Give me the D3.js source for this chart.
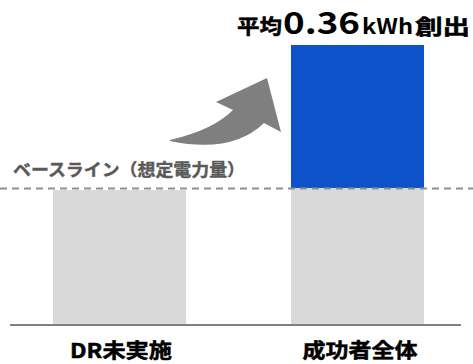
<!DOCTYPE html>
<html><head><meta charset="utf-8">
<script src="https://cdn.jsdelivr.net/npm/d3@7"></script>
<style>
html,body{margin:0;padding:0;background:#fff;}
svg{display:block;}
text{font-family:"Noto Sans CJK JP","Noto Sans",sans-serif;font-weight:700;}
</style></head>
<body>
<script>
const categories = ["DR未実施", "成功者全体"];
const baseValues = [0.34, 0.345];      // kWh (gray)
const createdValues = [0, 0.36];       // kWh created (blue)
const baselineValue = 0.345;
const baselineLabel = "ベースライン（想定電力量）";
const titleParts = ["平均", "0.36", "kWh", "創出"];

const W = 473, H = 364;
const svg = d3.select("body").append("svg").attr("width", W).attr("height", H);

const xb = d3.scaleBand().domain(categories).range([53, 424]).paddingInner(0.441).paddingOuter(0);
const y = d3.scaleLinear().domain([0, 0.705]).range([325, 45]);

const defs = svg.append("defs");
defs.append("filter").attr("id","blur").append("feGaussianBlur").attr("stdDeviation",0.6);

// gray bars
svg.selectAll("rect.base").data(categories).join("rect")
  .attr("x", d => xb(d)).attr("width", xb.bandwidth())
  .attr("y", (d,i) => y(baseValues[i])).attr("height", (d,i) => y(0) - y(baseValues[i]))
  .attr("fill", "#d9d9d9");

// blue bars
svg.selectAll("rect.created").data(categories.filter((d,i)=>createdValues[i]>0)).join("rect")
  .attr("x", d => xb(d)).attr("width", xb.bandwidth())
  .attr("y", d => { const i = categories.indexOf(d); return y(baseValues[i] + createdValues[i]); })
  .attr("height", d => { const i = categories.indexOf(d); return y(baseValues[i]) - y(baseValues[i] + createdValues[i]); })
  .attr("fill", "#0d52c8");

// baseline dashed
svg.append("line").attr("x1", 0).attr("x2", W).attr("y1", y(baselineValue)+0.5).attr("y2", y(baselineValue)+0.5)
  .attr("stroke", "#8f8f8f").attr("stroke-width", 2).attr("stroke-dasharray", "7,5");

svg.append("text").attr("x", 13).attr("y", 176).attr("font-size", 17).attr("fill", "#595959")
  .attr("stroke", "#595959").attr("stroke-width", 0.4)
  .attr("textLength", 232).attr("lengthAdjust", "spacingAndGlyphs").text(baselineLabel);

// axis line
svg.append("line").attr("x1", 10).attr("x2", 461).attr("y1", y(0)).attr("y2", y(0))
  .attr("stroke", "#7f7f7f").attr("stroke-width", 2);

// category labels
const catW = [102, 115];
svg.selectAll("text.cat").data(categories).join("text")
  .attr("x", (d,i) => xb(d) + xb.bandwidth()/2 + (i === 0 ? 1.5 : 2.5) - catW[i]/2).attr("y", 358)
  .attr("font-size", 20.5).attr("fill", "#000").attr("stroke", "#000").attr("stroke-width", 0.5)
  .attr("textLength", (d,i) => catW[i]).attr("lengthAdjust", "spacingAndGlyphs").text(d => d);

// arrow
svg.append("path")
  .attr("d", "M170,140 Q213,130 233,110 L216,102 L267,78 L281,132 L264,123 Q232,154 170,141 Z")
  .attr("fill", "#7f7f7f").attr("filter", "url(#blur)");

// title
const segs = [
  {s: titleParts[0], x: 237, w: 45, fs: 20},
  {s: titleParts[1], x: 283, w: 77, fs: 30},
  {s: titleParts[2], x: 362, w: 51, fs: 21},
  {s: titleParts[3], x: 415, w: 55, fs: 21}
];
segs.forEach(g => {
  const dj = g.s === "0.36" || g.s === "kWh";
  svg.append("text").attr("x", g.x).attr("y", 34).attr("font-size", g.fs).attr("fill", "#000")
    .attr("font-family", dj ? "'DejaVu Sans','Noto Sans CJK JP',sans-serif" : null)
    .attr("stroke", dj ? null : "#000").attr("stroke-width", dj ? null : 0.5)
    .attr("textLength", g.w).attr("lengthAdjust", "spacingAndGlyphs").text(g.s);
});
</script>
</body></html>
